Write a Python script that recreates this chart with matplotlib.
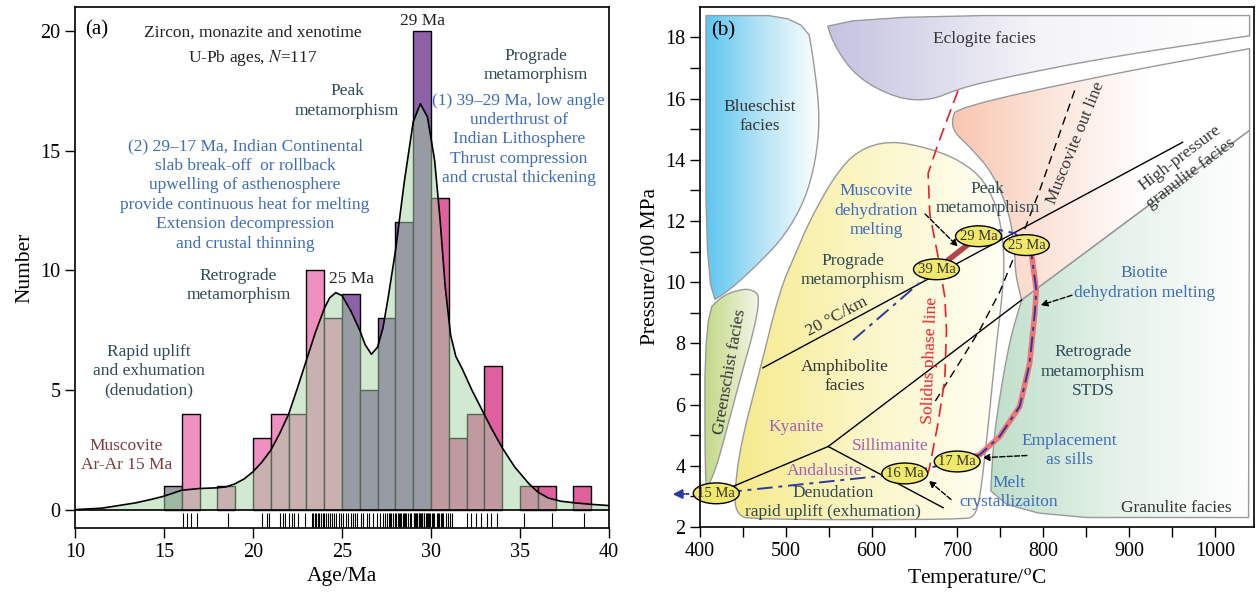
import numpy as np
import matplotlib
matplotlib.use("Agg")
import matplotlib.pyplot as plt
from matplotlib.patches import Polygon, Ellipse
from matplotlib.colors import LinearSegmentedColormap

plt.rcParams['font.family'] = ['Liberation Serif', 'DejaVu Serif']
plt.rcParams['mathtext.fontset'] = 'stix'

# ---------------- panel (a) data ----------------
bin_left = [15, 16, 18, 20, 21, 22, 23, 24, 25, 26, 27, 28, 29, 30, 31, 32, 33, 35, 36, 38]
counts = [1, 4, 1, 3, 4, 4, 10, 8, 9, 5, 8, 12, 20, 13, 3, 4, 6, 1, 1, 1]
stage = ['x', 'r', 'r', 'r', 'r', 'r', 'r', 'r', 'k', 'k', 'k', 'k', 'k',
         'g', 'g', 'g', 'g', 'g', 'g', 'g']

kde_age = [10.0, 11.5, 13.4, 14.3, 15.0, 16.0, 17.0, 18.0, 18.5, 19.0, 19.5, 20.0,
           20.5, 21.0, 21.5, 22.0, 22.5, 23.0, 23.5, 24.0, 24.3, 24.65, 25.0, 25.5,
           26.0, 26.3, 26.65, 27.0, 27.3, 27.6, 28.0, 28.5, 29.0, 29.4, 29.8, 30.2,
           30.5, 30.8, 31.1, 31.4, 31.75, 32.3, 32.85, 33.4, 34.0, 34.7, 35.5, 36.0,
           36.6, 37.3, 38.1, 39.0, 40.0]
kde_n = [0.02, 0.08, 0.3, 0.45, 0.58, 0.83, 0.9, 0.93, 0.97, 1.1, 1.3, 1.6,
         2.0, 2.5, 3.2, 4.0, 5.1, 6.25, 7.4, 8.4, 8.85, 9.07, 8.95, 8.3,
         7.5, 6.9, 6.5, 6.8, 7.6, 8.9, 10.8, 13.7, 16.2, 16.95, 16.4, 14.6,
         12.2, 9.3, 7.3, 6.4, 5.9, 5.0, 4.2, 3.4, 2.6, 1.8, 1.1, 0.75,
         0.5, 0.37, 0.3, 0.24, 0.19]

rug_ages = [16.09, 16.32, 16.54, 16.88, 18.62, 20.50, 20.78, 20.91, 21.53, 21.66, 21.81,
            22.00, 22.19, 22.32, 22.50, 22.94, 23.31, 23.39, 23.46, 23.54, 23.63, 23.71,
            23.82, 23.91, 24.00, 24.08, 24.19, 24.30, 24.44, 24.53, 24.66, 24.83, 24.94,
            25.06, 25.20, 25.35, 25.50, 25.62, 25.75, 25.85, 26.05, 26.20, 26.38, 26.52,
            26.75, 26.95, 27.12, 27.30, 27.42, 27.55, 27.62, 27.70, 27.78, 27.86, 27.95,
            28.05, 28.12, 28.20, 28.26, 28.33, 28.40, 28.47, 28.55, 28.62, 28.70, 28.80,
            28.90, 29.02, 29.06, 29.10, 29.15, 29.19, 29.24, 29.30, 29.34, 29.38, 29.43,
            29.48, 29.52, 29.58, 29.63, 29.70, 29.76, 29.82, 29.88, 29.94, 30.04, 30.10,
            30.18, 30.34, 30.40, 30.46, 30.55, 30.62, 30.70, 30.86, 30.93, 31.05, 31.20,
            32.03, 32.22, 32.50, 32.78, 33.16, 33.35, 33.72, 35.21, 36.81, 38.59]

# ---------------- panel (b) data ----------------
blueschist_T = [407, 523.4, 533.7, 539.7, 535, 522.2, 499, 469.8, 434.9, 407]
blueschist_P = [18.71, 18.71, 17.01, 15.38, 13.98, 12.67, 11.53, 10.65, 9.74, 9.25]
eclogite_T = [545.5, 1040.3, 1040.3, 865.6, 749.2, 702.7, 667.7, 629.3, 582.8, 554.8]
eclogite_P = [18.71, 18.71, 18.05, 17.30, 16.65, 16.33, 15.93, 16.0, 16.68, 17.79]
hpg_T = [699.2, 870, 1040.3, 1040.3, 774.8, 767.9, 766.7, 760.9, 741.1, 715, 696, 693.4]
hpg_P = [15.71, 16.75, 17.63, 14.96, 9.42, 10.2, 10.95, 12.25, 13.56, 14.4, 14.9, 15.3]
amph_T = [621.2, 667.7, 702.7, 731.8, 749.2, 755.1, 751.6, 744.6, 734.1, 726, 720.1,
          708.5, 458.2, 444.2, 439.6, 446.6, 469.8, 493.1, 510.6, 528, 557.2, 583.9]
amph_P = [14.63, 14.37, 13.98, 13.33, 12.19, 10.72, 9.42, 7.79, 4.85, 2.9, 2.37,
          2.24, 2.24, 2.41, 2.9, 4.62, 7.13, 9.74, 10.88, 12.02, 13.49, 14.31]
green_T = [405.8, 427.1, 450, 462, 469.8, 463, 446.6, 431.1, 419.4, 409.7, 405.8]
green_P = [8.98, 9.58, 9.78, 9.74, 9.52, 8.44, 6.81, 5.18, 3.98, 3.33, 3.4]
gran_T = [774.8, 1040.3, 1039.1, 737.6, 741.1, 749.2, 760.9]
gran_P = [9.42, 14.96, 2.31, 2.31, 4.62, 6.25, 8.11]

geotherm_T = [473.3, 962.3]
geotherm_P = [7.2, 14.57]
ky_sil_T = [549.4, 774.8]
ky_sil_P = [4.63, 9.42]
ky_and_T = [438.8, 549.4]
ky_and_P = [3.33, 4.63]
and_sil_T = [549.4, 683.3]
and_sil_P = [4.63, 2.63]
ms_out_T = [836.5, 795.8, 766.7, 749.2, 726, 699.2, 673.6]
ms_out_P = [16.26, 13.0, 10.88, 9.68, 8.44, 7.23, 6.09]
solidus_T = [700.7, 677.4, 665.8, 667.7, 677.4, 685.2, 687.2, 685.2, 677.4, 667.7, 665.8]
solidus_P = [16.26, 14.52, 13.55, 12.24, 10.83, 9.52, 8.44, 6.81, 5.4, 3.98, 3.77]

prograde_T = [578.5, 675.5]
prograde_P = [8.11, 10.45]
peak_T = [675.5, 724.5]
peak_P = [10.42, 11.5]
peak_link_T = [724.5, 749.2, 766.7, 780.3]
peak_link_P = [11.5, 11.7, 11.6, 11.21]
retro_T = [780.3, 786.1, 791.9, 790, 784.1, 772.5, 749.2, 726, 699.7]
retro_P = [11.21, 10.94, 9.74, 8.98, 7.35, 5.94, 4.96, 4.36, 4.14]
exhum_T = [699.7, 638.6, 419, 372]
exhum_P = [4.14, 3.75, 3.1, 3.07]

age_labels = ['39 Ma', '29 Ma', '25 Ma', '17 Ma', '16 Ma', '15 Ma']
age_T = [675.5, 724.5, 780.3, 699.7, 638.6, 419]
age_P = [10.42, 11.5, 11.21, 4.14, 3.75, 3.1]

fig = plt.figure(figsize=(12.56, 6.02), dpi=100)
ax1 = fig.add_axes([0.0597, 0.1224, 0.4252, 0.8665])
ax2 = fig.add_axes([0.5573, 0.1246, 0.4408, 0.8643])

# ---------------- panel (a) ----------------
stage_col = {'x': '#9d9da8', 'r': '#ef8fc0', 'k': '#8e62a8', 'g': '#e0609f'}
ax1.bar(bin_left, counts, width=1, align='edge', color=[stage_col[s] for s in stage],
        edgecolor='k', linewidth=1, zorder=1)
ax1.fill_between(kde_age, 0, kde_n, color='#a2d4a2', alpha=0.5, lw=0, zorder=2)
ax1.plot(kde_age, kde_n, color='k', lw=1.2, zorder=3)
ax1.axhline(0, color='k', lw=1.2, zorder=4)
ax1.vlines(rug_ages, -0.72, -0.14, color='k', lw=0.8)
ax1.set_xlim(10, 40)
ax1.set_ylim(-0.76, 21)
ax1.set_xticks([10, 15, 20, 25, 30, 35, 40])
ax1.set_yticks([0, 5, 10, 15, 20])
ax1.set_xlabel('Age/Ma', fontsize=15.5)
ax1.set_ylabel('Number', fontsize=15.5)

dark = '#2e4a54'
blue = '#3d6cb9'
kw = dict(ha='center', va='center', fontsize=12.5, linespacing=1.28)
ax1.text(11.2, 20.05, '(a)', fontsize=15, ha='center', va='center')
ax1.text(20.0, 19.9, 'Zircon, monazite and xenotime', color='#222222', **kw)
ax1.text(20.0, 18.85, 'U-Pb ages, $\\it{N}$=117', color='#222222', **kw)
ax1.text(29.5, 20.42, '29 Ma', color='#222222', **kw)
ax1.text(25.55, 9.65, '25 Ma', color='#222222', **kw)
ax1.text(25.28, 17.07, 'Peak\nmetamorphism', color=dark, **kw)
ax1.text(35.87, 18.55, 'Prograde\nmetamorphism', color=dark, **kw)
ax1.text(34.93, 15.47, '(1) 39\u201329 Ma, low angle\nunderthrust of\nIndian Lithosphere\n'
         'Thrust compression\nand crustal thickening', color=blue, **kw)
ax1.text(19.56, 13.14, '(2) 29\u201317 Ma, Indian Continental\nslab break-off  or rollback\n'
         'upwelling of asthenosphere\nprovide continuous heat for melting\n'
         'Extension decompression\nand crustal thinning', color=blue, **kw)
ax1.text(19.19, 9.38, 'Retrograde\nmetamorphism', color=dark, **kw)
ax1.text(14.16, 5.79, 'Rapid uplift\nand exhumation\n(denudation)', color=dark, **kw)
ax1.text(12.9, 2.28, 'Muscovite\nAr-Ar 15 Ma', color='#7b3c3c', **kw)


# ---------------- panel (b) ----------------
def rounded(T, P, sharp=(), n=2):
    # corner cutting so the facies outlines look soft; repeated vertices stay sharp
    pts = []
    for i, (t, p) in enumerate(zip(T, P)):
        pts += [(t, p)] * (4 if i in sharp else 1)
    pts = np.array(pts, dtype=float)
    for _ in range(n):
        nxt = np.roll(pts, -1, axis=0)
        q = 0.75 * pts + 0.25 * nxt
        r = 0.25 * pts + 0.75 * nxt
        pts = np.empty((2 * len(q), 2))
        pts[0::2] = q
        pts[1::2] = r
    return pts


def gradient_fill(ax, T, P, colors, sharp=()):
    poly = Polygon(rounded(T, P, sharp), closed=True, fc='none', ec='#9a9a9a',
                   lw=1, zorder=2)
    ax.add_patch(poly)
    cmap = LinearSegmentedColormap.from_list('grad', colors)
    im = ax.imshow(np.linspace(0, 1, 256).reshape(1, -1), cmap=cmap,
                   extent=[min(T), max(T), min(P), max(P)], aspect='auto',
                   origin='lower', zorder=1)
    im.set_clip_path(poly)


gradient_fill(ax2, blueschist_T, blueschist_P, ['#5ec6f0', '#b8e4f6', '#ffffff'],
              sharp=(0,))
gradient_fill(ax2, eclogite_T, eclogite_P, ['#c4c2e0', '#f4f4f8', '#ffffff'],
              sharp=(1, 2))
gradient_fill(ax2, hpg_T, hpg_P, ['#f9c6b0', '#fce6dc', '#ffffff', '#ffffff'],
              sharp=(2, 3, 4))
gradient_fill(ax2, amph_T, amph_P, ['#f6ea8c', '#fbf6c8', '#fffff6'])
gradient_fill(ax2, green_T, green_P, ['#c2d886', '#f4f6ea'])
gradient_fill(ax2, gran_T, gran_P, ['#bfdfca', '#e6f2ea', '#ffffff'], sharp=(0, 1, 2))

ax2.plot(geotherm_T, geotherm_P, color='k', lw=1, zorder=3)
ax2.plot(ky_sil_T, ky_sil_P, color='k', lw=1, zorder=3)
ax2.plot(ky_and_T, ky_and_P, color='k', lw=1, zorder=3)
ax2.plot(and_sil_T, and_sil_P, color='k', lw=1, zorder=3)
ax2.plot(ms_out_T, ms_out_P, color='k', lw=1, ls=(0, (6, 4)), zorder=3)
ax2.plot(solidus_T, solidus_P, color='#e8202a', lw=1.2, ls=(0, (8, 4)), zorder=3)

ax2.plot(prograde_T, prograde_P, color='#2b3aa0', lw=1.4, ls=(0, (8, 3, 2, 3)), zorder=4)
ax2.plot(peak_T, peak_P, color='#b0454a', lw=4, solid_capstyle='round', zorder=4)
ax2.plot(peak_link_T, peak_link_P, color='#2b3aa0', lw=1.4, ls=(0, (5, 3)), zorder=4)
ax2.plot(retro_T, retro_P, color='#f07575', lw=4, solid_capstyle='round', zorder=4)
ax2.plot(retro_T, retro_P, color='#2b3aa0', lw=1.4, ls=(0, (8, 3, 2, 3)), zorder=5)
ax2.plot(exhum_T, exhum_P, color='#2b3aa0', lw=1.4, ls=(0, (8, 3, 2, 3)), zorder=4,
         clip_on=False)
ax2.annotate('', xy=(365, 3.07), xytext=(385, 3.08), annotation_clip=False,
             arrowprops=dict(arrowstyle='-|>', color='#2b3aa0', lw=1.4,
                             mutation_scale=14))

for lab, t, p in zip(age_labels, age_T, age_P):
    ax2.add_patch(Ellipse((t, p), 53.5, 0.68, fc='#f0e86a', ec='k', lw=1,
                          zorder=6, clip_on=False))
    ax2.text(t, p, lab, ha='center', va='center', fontsize=10.5, zorder=7, color='#333333')

arrow = dict(arrowstyle='-|>', color='k', lw=1, ls='--', mutation_scale=10)
ax2.annotate('', xy=(702.7, 11.1), xytext=(660, 12.29), arrowprops=arrow, zorder=8)
ax2.annotate('', xy=(793.8, 9.22), xytext=(836.5, 9.6), arrowprops=arrow, zorder=8)
ax2.annotate('', xy=(726, 4.26), xytext=(784.1, 4.34), arrowprops=arrow, zorder=8)
ax2.annotate('', xy=(664, 3.57), xytext=(694.9, 2.84), arrowprops=arrow, zorder=8)

kb = dict(ha='center', va='center', fontsize=12.5, linespacing=1.28, zorder=9)
purple = '#a45fb4'
ax2.text(427, 18.22, '(b)', fontsize=15, ha='center', va='center')
ax2.text(731.8, 17.96, 'Eclogite facies', color='#333333', **kb)
ax2.text(469.8, 15.41, 'Blueschist\nfacies', color='#333333', **kb)
ax2.text(605.7, 12.33, 'Muscovite\ndehydration\nmelting', color=blue, **kb)
ax2.text(735.3, 12.74, 'Peak\nmetamorphism', color=dark, **kb)
ax2.text(578.5, 10.38, 'Prograde\nmetamorphism', color=dark, **kb)
ax2.text(559.1, 8.87, '20 \u00b0C/km', color='#333333', rotation=28, **kb)
ax2.text(568.8, 6.91, 'Amphibolite\nfacies', color='#333333', **kb)
ax2.text(511.8, 5.27, 'Kyanite', color=purple, **kb)
ax2.text(621.2, 4.66, 'Sillimanite', color=purple, **kb)
ax2.text(545.5, 3.82, 'Andalusite', color=purple, **kb)
ax2.text(555.2, 2.81, 'Denudation\nrapid uplift (exhumation)', color=dark, **kb)
ax2.text(434.9, 7.08, 'Greenschist facies', color='#333333', rotation=80, **kb)
ax2.text(667.7, 7.46, 'Solidus phase line', color='#e8202a', rotation=88, **kb)
ax2.text(838, 14.55, 'Muscovite out line', color='#333333', rotation=68, **kb)
ax2.text(965.6, 13.82, 'High-pressure\ngranulite facies', color='#333333', rotation=37, **kb)
ax2.text(918, 9.97, 'Biotite\ndehydration melting', color=blue, **kb)
ax2.text(857.8, 7.08, 'Retrograde\nmetamorphism\nSTDS', color=dark, **kb)
ax2.text(830.7, 4.5, 'Emplacement\nas sills', color=blue, **kb)
ax2.text(759.7, 3.13, 'Melt\ncrystallizaiton', color=blue, **kb)
ax2.text(955, 2.63, 'Granulite facies', color='#333333', **kb)

ax2.set_xlim(400, 1045)
ax2.set_ylim(2, 19)
ax2.set_xticks(range(400, 1001, 100))
ax2.set_xticks(range(450, 1001, 100), minor=True)
ax2.set_yticks(range(2, 19, 2))
ax2.set_yticks(range(3, 19, 2), minor=True)
ax2.set_xlabel('Temperature/$^{\\mathrm{o}}$C', fontsize=15.5)
ax2.set_ylabel('Pressure/100 MPa', fontsize=15.5)

for ax in (ax1, ax2):
    ax.tick_params(which='both', direction='out', length=7, width=1, labelsize=14.5)
    for s in ax.spines.values():
        s.set_linewidth(1.2)
        s.set_zorder(10)

fig.savefig('out.png', dpi=100)
